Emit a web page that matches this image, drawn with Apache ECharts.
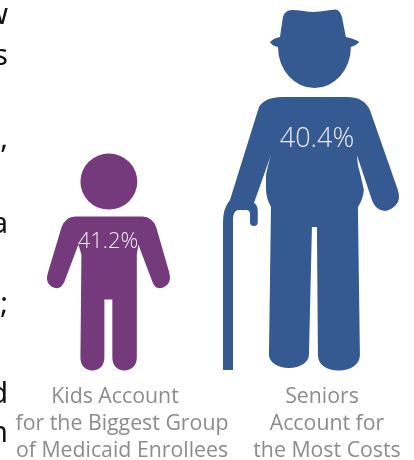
<!DOCTYPE html>
<html>
<head>
<meta charset="utf-8">
<style>html,body{margin:0;padding:0;background:#fff}#chart{width:414px;height:460px}</style>
<script src="https://cdn.jsdelivr.net/npm/echarts@6/dist/echarts.min.js"></script>
</head>
<body>
<div id="chart"></div>
<script>
// Share of each group, with the caption printed under each figure.
const categories = [
  "Kids Account\nfor the Biggest Group\nof Medicaid Enrollees",
  "Seniors\nAccount for\nthe Most Costs"
];
const shares = [41.2, 40.4];
const figureColors = ["#743a7b", "#355a92"];

// Ends of the body-text lines that run in from the left edge of the page.
const marginLetters = ["w", "s", ",", "a", ";", "d", "n"];
const marginBaselines = [24, 65, 148, 233, 313, 403, 442];

const KID_PATH = "path://M80 182A28.5 28 0 1 1 137 182A28.5 28 0 1 1 80 182Z" +
  "M75 217L142 217Q152 217 156 228L169 273Q172 284 163 288Q155 291 152 282L138 245L136.5 255" +
  "L136.5 358C136.5 366 131 371 124 371C117 371 112 366 112 358L112 300L104 300L104 358C104 366 99 371 92 371C85 371 80 366 80 358" +
  "L81 255L78 245L64 282Q60 291 53 288Q44 284 47.5 273L61 228Q65 217 75 217Z";

const SENIOR_PATH = "path://M283 17Q285 10 292 10C300 10 307 12 314 12C322 12 329 9.5 336 9.5Q340 10 342 17L346 37" +
  "Q355 39 359.5 42Q356 46 351 47A36.5 41 0 0 1 278 47Q272 46 270 42Q274 38 280 37Z" +
  "M282 97L347 97Q364 97 370 110L398 190Q401 200 396 205Q388 213 381 210Q375 208 372 200L357 155L358 165" +
  "Q362 180 364 190Q363 200 358 207L360 355C360 365 350 370.5 339 370.5C327 370.5 318 365 318 355L317 227L312 227L309 355" +
  "C309 362 300 368 289 368C278 368 269 362 269 355L271 207Q266 198 266 188L266 175Q268 165 271 155L254 203" +
  "Q258 205 257.8 212L257.8 222Q257.8 226 254 226Q250 226 250 222L250 214Q250 210 246 210L238 210Q233 211 233 220" +
  "L233 370L223 370L223 222Q223 208 230 200L259 107Q265 97 282 97Z";

const figureSymbols = [KID_PATH, SENIOR_PATH];
const figureSizes = [[123, 217], [176, 361]];
const figureOffsets = [[-13.5, 0], [-16, 0]];
const labelSizes = [22, 27];
const labelOffsets = [[-14, 77], [-10, 116]];

const chart = echarts.init(document.getElementById("chart"));
chart.setOption({
  animation: false,
  backgroundColor: "#ffffff",
  grid: { left: 19.5, top: 0, width: 410, height: 370.6, outerBoundsMode: "none" },
  xAxis: {
    type: "category",
    data: categories,
    axisLine: { show: false },
    axisTick: { show: false },
    axisLabel: {
      interval: 0,
      margin: 12.5,
      formatter: function (name) {
        const lines = name.split("\n");
        const pad = lines[0].length > 8 ? "first" : "firstShort";
        return lines.map((l, i) => "{" + (i === 0 ? pad : "rest") + "|" + l + "}").join("\n");
      },
      rich: {
        first: { fontFamily: "Open Sans", fontSize: 21.3, color: "#8b8c8e", lineHeight: 27, padding: [0, 14, 0, 0] },
        firstShort: { fontFamily: "Open Sans", fontSize: 21.3, color: "#8b8c8e", lineHeight: 27, padding: [0, 10, 0, 0] },
        rest: { fontFamily: "Open Sans", fontSize: 21.3, color: "#8b8c8e", lineHeight: 27 }
      }
    }
  },
  yAxis: { type: "value", min: 0, max: 100, show: false },
  series: [{
    type: "pictorialBar",
    barWidth: 190,
    symbolPosition: "start",
    symbolKeepAspect: false,
    data: shares.map((v, i) => ({
      value: v,
      symbol: figureSymbols[i],
      symbolSize: figureSizes[i],
      symbolOffset: figureOffsets[i],
      itemStyle: { color: figureColors[i] },
      label: {
        show: true,
        position: "insideTop",
        distance: 0,
        offset: labelOffsets[i],
        formatter: "{c}%",
        fontFamily: "Open Sans",
        fontWeight: 300,
        fontSize: labelSizes[i],
        color: "#f1ecf3"
      }
    }))
  }],
  graphic: marginLetters.map((ch, i) => ({
    type: "text",
    right: 406,
    top: marginBaselines[i] - 23,
    style: { text: ch, font: "29px 'Noto Sans'", fill: "#111111", textAlign: "right", textVerticalAlign: "top" }
  }))
});
</script>
</body>
</html>
